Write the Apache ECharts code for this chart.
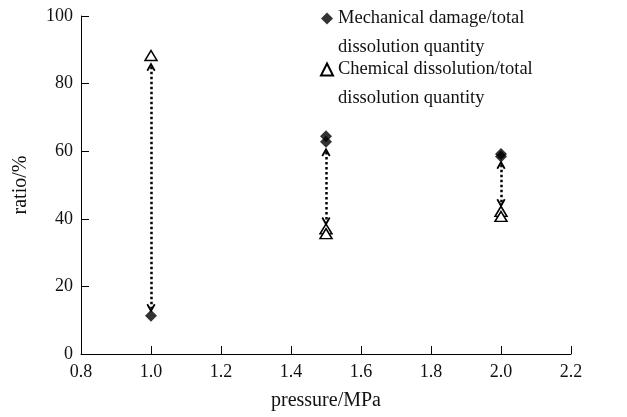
<!DOCTYPE html>
<html>
<head>
<meta charset="utf-8">
<script src="https://cdn.jsdelivr.net/npm/echarts@6/dist/echarts.min.js"></script>
<style>
  html, body { margin: 0; padding: 0; background: #fff; }
  #chart { width: 627px; height: 417px; }
</style>
</head>
<body>
<div id="chart"></div>
<script>
var xTicks = [0.8, 1.0, 1.2, 1.4, 1.6, 1.8, 2.0, 2.2];
var yTicks = [0, 20, 40, 60, 80, 100];
var mechanical = [[1.0, 11.3], [1.5, 64.4], [1.5, 62.8], [2.0, 59.2], [2.0, 58.4]]; // 机械损伤
var chemical = [[1.0, 88.3], [1.5, 37.0], [1.5, 35.6], [2.0, 42.2], [2.0, 40.7]];   // 化学溶解
var arrows = [[1.0, 85.0, 13.5], [1.5, 59.8, 39.2], [2.0, 56.0, 44.6]];            // x, 上端, 下端

var serif = 'Liberation Serif, Times New Roman, serif';
var chevron = 'path://M5,0 L10,8 L8.3,9 L5,4 L1.7,9 L0,8 Z';

var myChart = echarts.init(document.getElementById('chart'));
var option = {
	animation: false,
	grid: {left: 81, right: 56, top: 16, bottom: 63},
	legend: {
		orient: 'vertical',
		left: 320,
		top: -25,
		padding: 0,
		itemGap: -36,
		itemWidth: 12,
		itemHeight: 12,
		selectedMode: false,
		formatter: function (name) { return '\n' + name; }, // 空行让首行对齐图标
		textStyle: {fontFamily: serif, fontSize: 18.5, color: '#111', lineHeight: 29},
		data: [
			{name: 'Mechanical damage/total\ndissolution quantity', icon: 'diamond'},
			{name: 'Chemical dissolution/total\ndissolution quantity', icon: 'triangle'}
		]
	},
	xAxis: {
		type: 'value',
		min: xTicks[0], max: xTicks[xTicks.length - 1], interval: 0.2,
		name: 'pressure/MPa', nameLocation: 'middle', nameGap: 37,
		nameTextStyle: {fontFamily: serif, fontSize: 20, color: '#111'},
		axisLine: {lineStyle: {color: '#000', width: 1}},
		axisTick: {inside: true, length: 8, lineStyle: {color: '#000'}},
		axisLabel: {
			fontFamily: serif, fontSize: 18, color: '#111', margin: 9,
			formatter: function (v) { return v.toFixed(1); }
		},
		splitLine: {show: false}
	},
	yAxis: {
		type: 'value',
		min: yTicks[0], max: yTicks[yTicks.length - 1], interval: 20,
		name: 'ratio/%', nameLocation: 'middle', nameGap: 50,
		nameTextStyle: {fontFamily: serif, fontSize: 20, color: '#111'},
		axisLine: {show: true, lineStyle: {color: '#000', width: 1}},
		axisTick: {show: true, inside: true, length: 8, lineStyle: {color: '#000'}},
		axisLabel: {fontFamily: serif, fontSize: 18, color: '#111', margin: 8},
		splitLine: {show: false}
	},
	series: [{
		name: 'arrows',
		type: 'line',
		data: [],
		markLine: {
			silent: true,
			symbol: [chevron, chevron],
			symbolSize: [9, 9],
			label: {show: false},
			lineStyle: {type: 'dotted', color: '#000', width: 2.5},
			data: arrows.map(function (a) {
				return [{coord: [a[0], a[1]]}, {coord: [a[0], a[2]]}];
			})
		}
	}, {
		name: 'Mechanical damage/total\ndissolution quantity',
		type: 'scatter',
		symbol: 'diamond',
		symbolSize: 12,
		itemStyle: {color: '#000'},
		data: mechanical
	}, {
		name: 'Chemical dissolution/total\ndissolution quantity',
		type: 'scatter',
		symbol: 'triangle',
		symbolSize: [12, 10],
		itemStyle: {color: '#fff', borderColor: '#000', borderWidth: 1.5, opacity: 1},
		data: chemical
	}]
};
myChart.setOption(option);
</script>
</body>
</html>
